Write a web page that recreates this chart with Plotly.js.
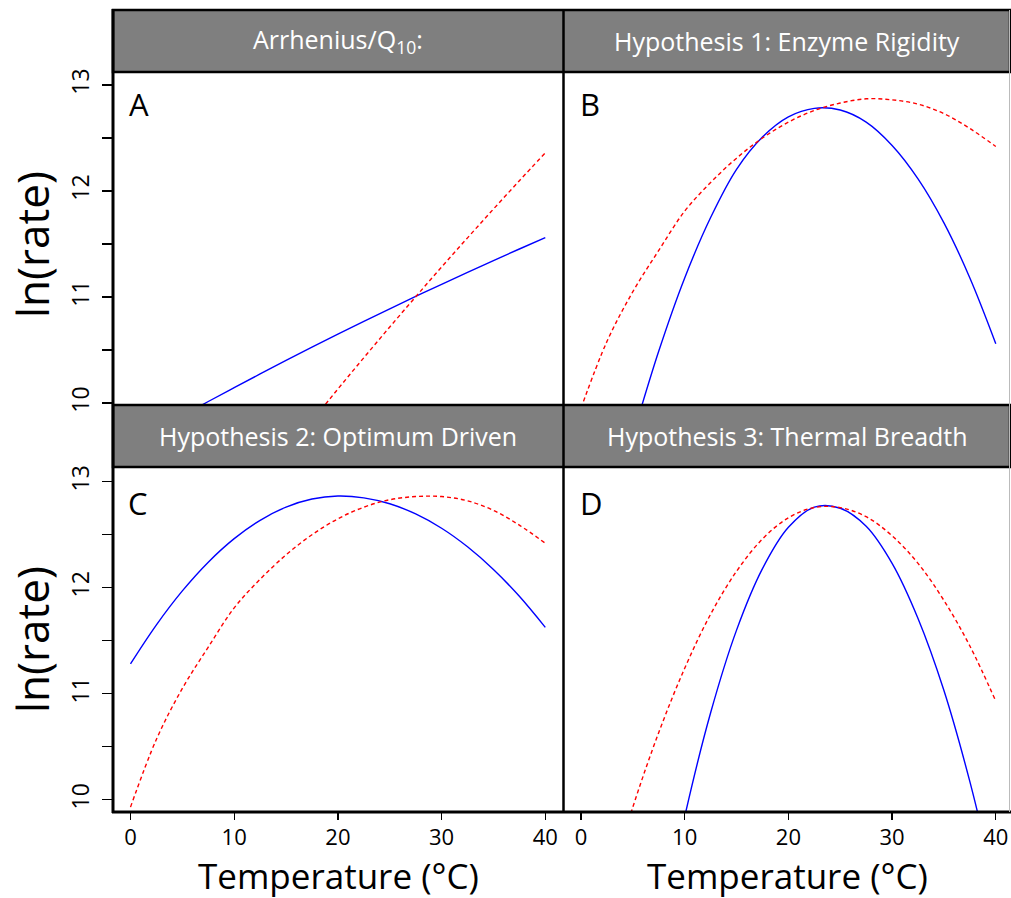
<!DOCTYPE html>
<html><head><meta charset="utf-8">
<script src="https://cdn.plot.ly/plotly-3.0.1.min.js"></script>
<style>html,body{margin:0;padding:0;background:#fff;} #chart{width:1011px;height:898px;}</style>
</head><body><div id="chart"></div>
<script>
const temperature = [0,2.5,5,7.5,10,12.5,15,17.5,20,22.5,25,27.5,30,32.5,35,37.5,40];
const panelTitles = ['Arrhenius/Q<sub>10</sub>:', 'Hypothesis 1: Enzyme Rigidity', 'Hypothesis 2: Optimum Driven', 'Hypothesis 3: Thermal Breadth'];
const panelLetters = ['A','B','C','D'];
const yTickVals = [10,11,12,13];
const yTickText = ['10','11','12','13'];
const xTickVals = [0,10,20,30,40];
const xTickText = ['0','10','20','30','40'];
const yLabel = 'ln(rate)';
const xLabel = 'Temperature (°C)';

const blueA = [9.604,9.743,9.880,10.014,10.145,10.274,10.401,10.526,10.649,10.770,10.888,11.005,11.120,11.232,11.343,11.453,11.560];
const redA  = [null,null,null,null,null,null,9.526,9.831,10.132,10.427,10.717,11.002,11.283,11.558,11.830,12.097,12.360];
const blueB = [null,null,9.69,10.49,11.18,11.75,12.205,12.51,12.70,12.78,12.764,12.65,12.43,12.115,11.70,11.18,10.56];
const redB  = [9.95,10.58,11.05,11.44,11.81,12.08,12.31,12.50,12.65,12.76,12.83,12.87,12.86,12.82,12.73,12.59,12.42];
const blueC = [11.282,11.650,11.970,12.241,12.463,12.636,12.761,12.837,12.865,12.848,12.792,12.696,12.561,12.386,12.172,11.919,11.626];
const redC  = [9.93,10.57,11.05,11.44,11.81,12.08,12.31,12.50,12.65,12.76,12.83,12.86,12.86,12.82,12.73,12.59,12.42];
const blueD = [null,null,null,8.66,9.84,10.82,11.60,12.18,12.57,12.76,12.75,12.58,12.23,11.71,11.03,10.17,9.15];
const redD  = [null,9.11,9.93,10.635,11.24,11.75,12.155,12.46,12.66,12.757,12.756,12.67,12.49,12.23,11.88,11.45,10.93];

const W = 1011, H = 898;
const px = x => x / W;
const py = y => 1 - y / H;
const FONT = 'Open Sans, sans-serif';

const blueLine = {color: '#0000ff', width: 1.4, shape: 'spline'};
const redLine = {color: '#ff0000', width: 1.4, dash: '4px,3px', shape: 'spline'};

const series = [
  [blueA, redA], [blueB, redB], [blueC, redC], [blueD, redD]
];
const traces = [];
series.forEach((pair, i) => {
  const sfx = i === 0 ? '' : String(i + 1);
  traces.push({x: temperature, y: pair[0], type: 'scatter', mode: 'lines', line: blueLine, xaxis: 'x' + sfx, yaxis: 'y' + sfx, hoverinfo: 'skip'});
  traces.push({x: temperature, y: pair[1], type: 'scatter', mode: 'lines', line: redLine, xaxis: 'x' + sfx, yaxis: 'y' + sfx, hoverinfo: 'skip'});
});

const leftDom = [px(113), px(563)];
const rightDom = [px(563), px(1010)];
const topDom = [py(405), py(72)];
const botDom = [py(812), py(467)];
const xRangeL = [-1.688, 41.707];
const xRangeR = [-1.736, 41.37];
const yRangeT = [9.981, 13.123];
const yRangeB = [9.884, 13.139];

const baseAx = {showgrid: false, zeroline: false, showline: false, fixedrange: true};
const yTicked = Object.assign({}, baseAx, {ticks: 'outside', ticklen: 10, tickwidth: 1.3, tickcolor: '#000',
  tickvals: yTickVals, ticktext: yTickText, tickangle: -90, tickfont: {family: FONT, size: 23, color: '#000'}, ticklabelstandoff: 4,
  minor: {tick0: 10, dtick: 0.5, ticks: 'outside', ticklen: 10, tickwidth: 1.3, tickcolor: '#000', showgrid: false}});
const xTicked = Object.assign({}, baseAx, {ticks: 'outside', ticklen: 7, tickwidth: 1.3, tickcolor: '#000',
  tickvals: xTickVals, ticktext: xTickText, tickfont: {family: FONT, size: 22, color: '#000'}, ticklabelstandoff: -1});
const noTick = Object.assign({}, baseAx, {showticklabels: false, ticks: ''});

const layout = {
  width: W, height: H,
  margin: {l: 0, r: 0, t: 0, b: 0},
  paper_bgcolor: '#fff', plot_bgcolor: 'rgba(0,0,0,0)',
  showlegend: false,
  font: {family: FONT, color: '#000'},
  xaxis: Object.assign({}, noTick, {domain: leftDom, range: xRangeL, anchor: 'y'}),
  yaxis: Object.assign({}, yTicked, {domain: topDom, range: yRangeT, anchor: 'x'}),
  xaxis2: Object.assign({}, noTick, {domain: rightDom, range: xRangeR, anchor: 'y2'}),
  yaxis2: Object.assign({}, noTick, {domain: topDom, range: yRangeT, anchor: 'x2'}),
  xaxis3: Object.assign({}, xTicked, {domain: leftDom, range: xRangeL, anchor: 'y3'}),
  yaxis3: Object.assign({}, yTicked, {domain: botDom, range: yRangeB, anchor: 'x3'}),
  xaxis4: Object.assign({}, xTicked, {domain: rightDom, range: xRangeR, anchor: 'y4'}),
  yaxis4: Object.assign({}, noTick, {domain: botDom, range: yRangeB, anchor: 'x4'}),
  shapes: [
    {type: 'rect', xref: 'paper', yref: 'paper', x0: px(113), x1: px(1010), y0: py(10), y1: py(72), fillcolor: '#7f7f7f', line: {color: '#000', width: 2.5}, layer: 'above'},
    {type: 'rect', xref: 'paper', yref: 'paper', x0: px(113), x1: px(1010), y0: py(405), y1: py(467), fillcolor: '#7f7f7f', line: {color: '#000', width: 2.5}, layer: 'above'},
    {type: 'line', xref: 'paper', yref: 'paper', x0: px(113), x1: px(113), y0: py(9), y1: py(813), line: {color: '#000', width: 3}},
    {type: 'line', xref: 'paper', yref: 'paper', x0: px(563.5), x1: px(563.5), y0: py(9), y1: py(813), line: {color: '#000', width: 2.5}},
    {type: 'line', xref: 'paper', yref: 'paper', x0: px(112), x1: px(1011), y0: py(812), y1: py(812), line: {color: '#000', width: 3}},
    {type: 'line', xref: 'paper', yref: 'paper', x0: px(1009.5), x1: px(1009.5), y0: py(10), y1: py(812), line: {color: '#bbbbbb', width: 1}}
  ],
  annotations: []
};

const headerCenters = [[338, 41], [787, 41], [338, 436], [787, 436]];
panelTitles.forEach((t, i) => {
  layout.annotations.push({xref: 'paper', yref: 'paper', x: px(headerCenters[i][0]), y: py(headerCenters[i][1]), text: t,
    showarrow: false, xanchor: 'center', yanchor: 'middle', font: {family: FONT, size: 25, color: '#ffffff'}});
});
const letterPos = [[139, 104], [590, 104], [138, 503], [591, 503]];
panelLetters.forEach((t, i) => {
  layout.annotations.push({xref: 'paper', yref: 'paper', x: px(letterPos[i][0]), y: py(letterPos[i][1]), text: t,
    showarrow: false, xanchor: 'center', yanchor: 'middle', font: {family: FONT, size: 31, color: '#000'}});
});
[245, 640].forEach(yc => {
  layout.annotations.push({xref: 'paper', yref: 'paper', x: px(32), y: py(yc), text: yLabel, textangle: -90,
    showarrow: false, xanchor: 'center', yanchor: 'middle', font: {family: FONT, size: 44, color: '#000'}});
});
[338, 787].forEach(xc => {
  layout.annotations.push({xref: 'paper', yref: 'paper', x: px(xc), y: py(875.5), text: xLabel, borderpad: 0,
    showarrow: false, xanchor: 'center', yanchor: 'middle', font: {family: FONT, size: 35, color: '#000'}});
});

Plotly.newPlot('chart', traces, layout, {staticPlot: true, displayModeBar: false});
</script></body></html>
